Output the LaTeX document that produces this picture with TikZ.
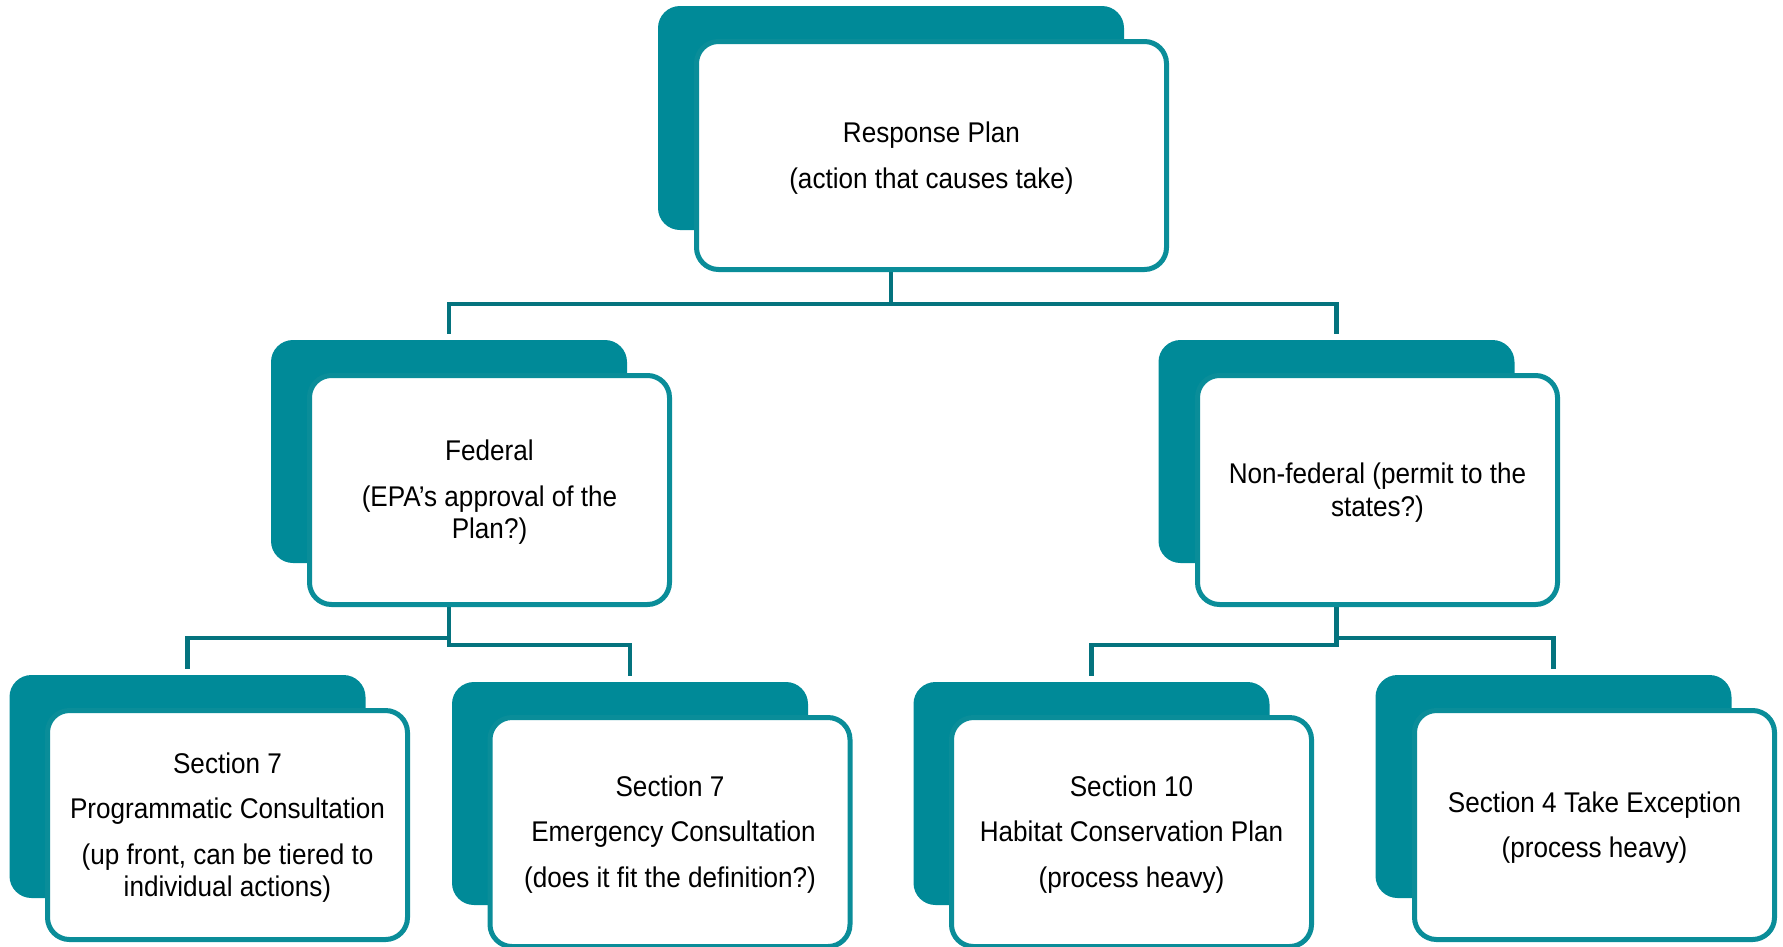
\documentclass[tikz,border=0pt]{standalone}
\usepackage{fontspec}
\setmainfont[FakeStretch=0.916]{Liberation Sans}
\usetikzlibrary{calc,backgrounds}
\definecolor{tealfill}{HTML}{008A98}
\definecolor{tealline}{HTML}{0A8D99}
\definecolor{connc}{HTML}{04737E}
\begin{document}
\begin{tikzpicture}[x=1pt,y=-1pt,
  backbox/.style={fill=tealfill, rounded corners=22pt, inner sep=0pt, outer sep=0pt,
    minimum width=356pt, minimum height=223pt},
  frontbox/.style={draw=tealline, line width=5pt, fill=white, rounded corners=22pt,
    inner sep=0pt, outer sep=0pt, minimum width=360pt, minimum height=229pt},
  boxtext/.style={inner sep=0pt, align=center, font=\fontsize{28.5}{32.3}\selectfont},
  conn/.style={draw=connc, line width=4.5pt}]
\useasboundingbox (0,0) rectangle (1783,946);

% top
\node[backbox, minimum width=466pt, minimum height=224pt] (topB) at (891,118) {};
\node[frontbox, minimum width=470pt, minimum height=228pt] (topF) at (931.5,155.5) {};
\node[boxtext] (topT) at ($(topF.center)+(0,2.5)$)
  {Response Plan\\[13.2pt](action that causes take)};

% level 2
\node[backbox] (fedB) at (449,451.5) {};
\node[frontbox] (fedF) at (489.5,490) {};
\node[boxtext] (fedT) at ($(fedF.center)+(0,2.5)$)
  {Federal\\[13.2pt](EPA’s approval of the\\Plan?)};
\node[backbox] (nfB) at (1336.5,451.5) {};
\node[frontbox] (nfF) at (1377.5,490) {};
\node[boxtext] (nfT) at ($(nfF.center)+(0,2.5)$)
  {Non-federal (permit to the\\states?)};

% level 3
\node[backbox] (progB) at (187.5,786.5) {};
\node[frontbox] (progF) at (227.5,825) {};
\node[boxtext] (progT) at ($(progF.center)+(0,2.5)$)
  {Section 7\\[13.2pt]Programmatic Consultation\\[13.2pt](up front, can be tiered to\\individual actions)};
\node[backbox] (emB) at (630,793.5) {};
\node[frontbox] (emF) at (670,832) {};
\node[boxtext] (emT) at ($(emF.center)+(0,2.5)$)
  {Section 7\\[13.2pt]\hspace*{7pt}Emergency Consultation\\[13.2pt](does it fit the definition?)};
\node[backbox] (hcB) at (1091.5,793.5) {};
\node[frontbox] (hcF) at (1131.5,832) {};
\node[boxtext] (hcT) at ($(hcF.center)+(0,2.5)$)
  {Section 10\\[13.2pt]Habitat Conservation Plan\\[13.2pt](process heavy)};
\node[backbox] (tkB) at (1553.5,786.5) {};
\node[frontbox] (tkF) at (1594.5,825) {};
\node[boxtext] (tkT) at ($(tkF.center)+(0,2.5)$)
  {Section 4 Take Exception\\[12pt](process heavy)};

\begin{pgfonlayer}{background}
\draw[conn] (topB.south) |- ($(fedB.north)+(0,-36)$) -- ($(fedB.north)+(0,-6)$);
\draw[conn] (topB.south) |- ($(nfB.north)+(0,-36)$) -- ($(nfB.north)+(0,-6)$);
\draw[conn] (fedB.south) |- ($(progB.north)+(0,-37)$) -- ($(progB.north)+(0,-6)$);
\draw[conn] (fedB.south) |- ($(emB.north)+(0,-37)$) -- ($(emB.north)+(0,-6)$);
\draw[conn] (nfB.south) |- ($(hcB.north)+(0,-37)$) -- ($(hcB.north)+(0,-6)$);
\draw[conn] (nfB.south) |- ($(tkB.north)+(0,-37)$) -- ($(tkB.north)+(0,-6)$);
\end{pgfonlayer}
\end{tikzpicture}
\end{document}
